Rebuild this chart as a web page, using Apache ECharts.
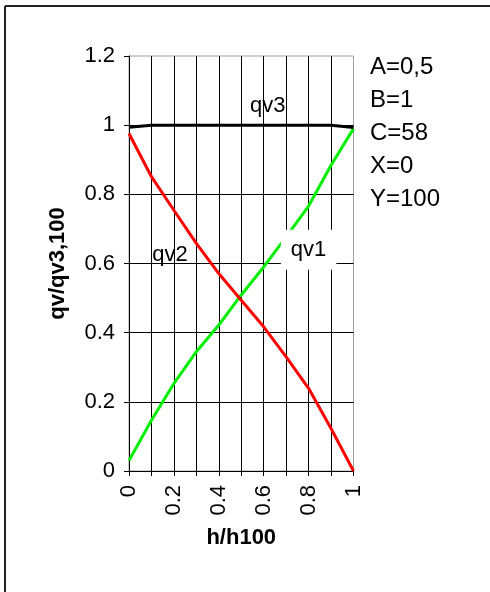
<!DOCTYPE html>
<html>
<head>
<meta charset="utf-8">
<script src="https://cdn.jsdelivr.net/npm/echarts@6/dist/echarts.min.js"></script>
<style>
html,body{margin:0;padding:0;background:#fff;}
#chart{width:490px;height:592px;}
</style>
</head>
<body>
<div id="chart"></div>
<script>
var hValues = [0, 0.1, 0.2, 0.3, 0.4, 0.5, 0.6, 0.7, 0.8, 0.9, 1];
var qv1 = [0.030, 0.147, 0.253, 0.345, 0.422, 0.509, 0.590, 0.677, 0.766, 0.884, 0.990];
var qv2 = [0.976, 0.851, 0.754, 0.658, 0.571, 0.494, 0.417, 0.330, 0.239, 0.123, 0.0];
var qv3 = [0.994, 1, 1, 1, 1, 1, 1, 1, 1, 1, 0.993];
var seriesNames = ['qv1', 'qv2', 'qv3'];
var labelPoints = [[0.80, 0.64], [0.183, 0.624], [0.618, 1.055]];
var paramLines = ['A=0,5', 'B=1', 'C=58', 'X=0', 'Y=100'];
var xTitle = 'h/h100';
var yTitle = 'qv/qv3,100';

function pairs(ys) { return hValues.map(function (x, i) { return [x, ys[i]]; }); }

var FONT = 'Liberation Sans, Arial, sans-serif';
var chart = echarts.init(document.getElementById('chart'));

var paramGraphics = paramLines.map(function (t, i) {
  return { type: 'text', left: 370, top: 55 + i * 33,
    style: { text: t, font: '24px ' + FONT, fill: '#000' } };
});

var option = {
  animation: false,
  backgroundColor: '#fff',
  grid: { left: 129, top: 56, right: 136.5, bottom: 121, show: true,
    borderColor: '#a0a0a0', borderWidth: 1, backgroundColor: 'transparent' },
  xAxis: {
    type: 'value', min: 0, max: 1, interval: 0.2,
    name: xTitle, nameLocation: 'middle', nameGap: 56,
    nameTextStyle: { fontFamily: FONT, fontSize: 22, fontWeight: 'bold', color: '#000' },
    axisLine: { show: true, lineStyle: { color: '#000', width: 1 } },
    axisTick: { show: true, length: 5, lineStyle: { color: '#000' } },
    minorTick: { show: true, splitNumber: 2, length: 5, lineStyle: { color: '#000' } },
    splitLine: { show: true, showMaxLine: false, lineStyle: { color: '#000', width: 1 } },
    minorSplitLine: { show: true, lineStyle: { color: '#000', width: 1 } },
    axisLabel: { rotate: 90, margin: 14, fontFamily: FONT, fontSize: 22, color: '#000',
      formatter: function (v) { return String(Math.round(v * 10) / 10); } }
  },
  yAxis: {
    type: 'value', min: 0, max: 1.2, interval: 0.2,
    name: yTitle, nameLocation: 'middle', nameGap: 60,
    nameTextStyle: { fontFamily: FONT, fontSize: 22, fontWeight: 'bold', color: '#000' },
    axisLine: { show: true, lineStyle: { color: '#000', width: 1 } },
    axisTick: { show: true, length: 5, lineStyle: { color: '#000' } },
    splitLine: { show: true, showMaxLine: false, lineStyle: { color: '#000', width: 1 } },
    axisLabel: { margin: 14, fontFamily: FONT, fontSize: 22, color: '#000',
      formatter: function (v) { return String(Math.round(v * 10) / 10); } }
  },
  series: [
    { name: seriesNames[0], type: 'line', data: pairs(qv1), showSymbol: false, symbol: 'none',
      lineStyle: { color: '#00ee00', width: 3 }, z: 3 },
    { name: seriesNames[1], type: 'line', data: pairs(qv2), showSymbol: false, symbol: 'none',
      lineStyle: { color: '#ff0000', width: 3 }, z: 3 },
    { name: seriesNames[2], type: 'line', data: pairs(qv3), showSymbol: false, symbol: 'none',
      lineStyle: { color: '#000', width: 3 }, z: 3 },
    { type: 'scatter', symbolSize: 0, z: 5, silent: true,
      itemStyle: { opacity: 1, color: '#000' },
      data: labelPoints.map(function (p, i) {
        var lab = { show: true, position: 'inside', formatter: seriesNames[i],
          fontFamily: FONT, fontSize: 22, color: '#000', opacity: 1 };
        if (i === 0) { lab.backgroundColor = '#fff'; lab.padding = [10, 10, 8, 10]; }
        return { value: p, label: lab };
      }) }
  ],
  graphic: [
    { type: 'line', shape: { x1: 5, y1: 6, x2: 5, y2: 592 }, style: { stroke: '#222', lineWidth: 2 } },
    { type: 'line', shape: { x1: 5, y1: 6, x2: 490, y2: 6 }, style: { stroke: '#222', lineWidth: 2 } }
  ].concat(paramGraphics)
};
chart.setOption(option);
</script>
</body>
</html>
